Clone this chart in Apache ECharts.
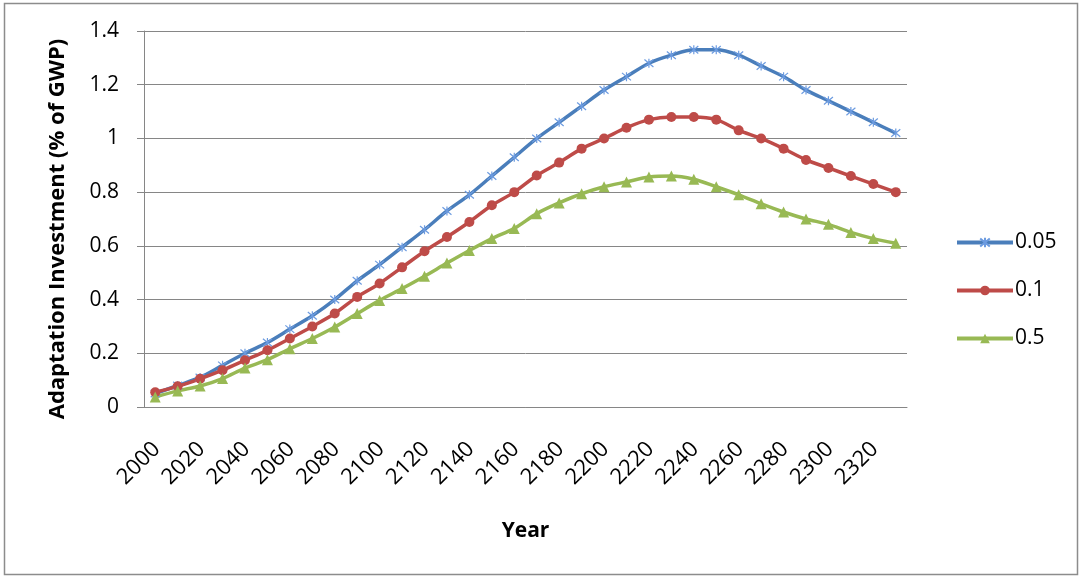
<!DOCTYPE html>
<html>
<head>
<meta charset="utf-8">
<script src="https://cdn.jsdelivr.net/npm/echarts@6/dist/echarts.min.js"></script>
<style>
html,body{margin:0;padding:0;background:#fff;}
#chart{width:1083px;height:579px;}
</style>
</head>
<body>
<div id="chart"></div>
<script>
var years = [];
for (var y = 2000; y <= 2330; y += 10) years.push(String(y));

var s005 = [0.05,0.08,0.11,0.155,0.20,0.24,0.29,0.34,0.40,0.47,0.53,0.595,0.66,0.73,0.79,0.86,0.93,1.00,1.06,1.12,1.18,1.23,1.28,1.31,1.33,1.33,1.31,1.27,1.23,1.18,1.14,1.10,1.06,1.02];
var s01  = [0.055,0.077,0.105,0.137,0.174,0.211,0.255,0.30,0.348,0.41,0.46,0.52,0.58,0.633,0.689,0.751,0.80,0.862,0.91,0.962,1.00,1.04,1.07,1.08,1.08,1.07,1.03,1.00,0.962,0.92,0.89,0.86,0.83,0.80];
var s05  = [0.037,0.06,0.078,0.106,0.145,0.176,0.217,0.255,0.298,0.348,0.397,0.441,0.487,0.536,0.583,0.627,0.665,0.72,0.76,0.794,0.82,0.838,0.856,0.86,0.848,0.82,0.79,0.757,0.726,0.70,0.68,0.65,0.627,0.61];
var seriesNames = ['0.05','0.1','0.5'];
var yTicks = {min: 0, max: 1.4, interval: 0.2};

var FONT = '"Open Sans", "DejaVu Sans", sans-serif';
var starPath = 'path://M0,0L10,10M10,0L0,10M5,-1L5,11';

var chart = echarts.init(document.getElementById('chart'), null, {renderer: 'canvas'});
var option = {
  backgroundColor: '#fff',
  animation: false,
  graphic: [{
    type: 'rect', shape: {x: 4.5, y: 3.5, width: 1073, height: 571},
    style: {fill: 'none', stroke: '#8c8c8c', lineWidth: 1.5}, silent: true
  }],
  grid: {left: 144, right: 176, top: 31, bottom: 172, containLabel: false},
  legend: {
    orient: 'vertical', left: 955, top: 232, padding: 0,
    itemWidth: 56, itemHeight: 12, itemGap: 27,
    lineStyle: {width: 4},
    textStyle: {fontFamily: FONT, fontSize: 21, color: '#000', padding: [0,0,0,-3]},
    data: seriesNames
  },
  xAxis: {
    type: 'category', data: years, boundaryGap: true,
    name: 'Year', nameLocation: 'middle', nameGap: 114,
    nameTextStyle: {fontFamily: FONT, fontSize: 21, fontWeight: 'bold', color: '#000'},
    axisLine: {show: true, lineStyle: {color: '#868686', width: 1}},
    axisTick: {show: false},
    axisLabel: {interval: 1, rotate: 45, margin: 40, fontFamily: FONT, fontSize: 22, color: '#000', padding: [0, -2, 0, 0]},
    splitLine: {show: false}
  },
  yAxis: {
    type: 'value', min: yTicks.min, max: yTicks.max, interval: yTicks.interval,
    name: 'Adaptation Investment (% of GWP)', nameLocation: 'middle', nameGap: 75,
    nameTextStyle: {fontFamily: FONT, fontSize: 22, fontWeight: 'bold', color: '#000', padding: [0, 20, 0, 0]},
    axisLine: {show: true, lineStyle: {color: '#868686', width: 1}},
    axisTick: {show: true, length: 7, lineStyle: {color: '#868686'}},
    axisLabel: {margin: 25, fontFamily: FONT, fontSize: 21, color: '#000'},
    splitLine: {show: true, lineStyle: {color: '#868686', width: 1}}
  },
  series: [
    {name: seriesNames[0], type: 'line', data: s005, smooth: 0.3,
     symbol: starPath, symbolSize: 9,
     lineStyle: {color: '#4A7EBB', width: 3.5},
     itemStyle: {color: '#4A7EBB', borderColor: '#6c9be0', borderWidth: 1.2}},
    {name: seriesNames[1], type: 'line', data: s01, smooth: 0.3,
     symbol: 'circle', symbolSize: 10,
     lineStyle: {color: '#BE4B48', width: 3.5},
     itemStyle: {color: '#BE4B48'}},
    {name: seriesNames[2], type: 'line', data: s05, smooth: 0.3,
     symbol: 'triangle', symbolSize: 11,
     lineStyle: {color: '#98B954', width: 3.5},
     itemStyle: {color: '#98B954'}}
  ]
};
chart.setOption(option);
</script>
</body>
</html>
